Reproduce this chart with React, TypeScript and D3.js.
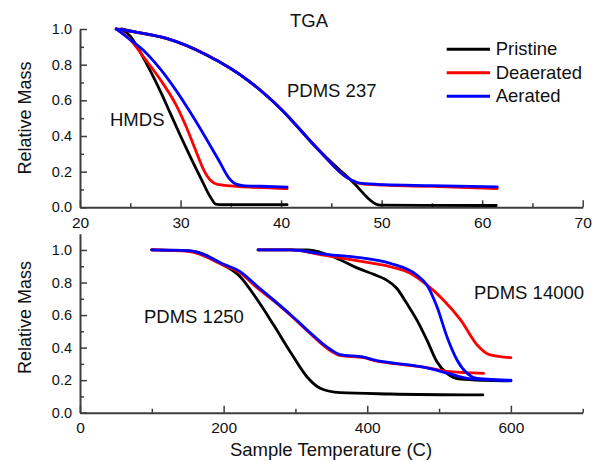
import * as d3 from "d3";
import { useEffect, useRef } from "react";

type Pt = [number, number];

const W = 592;
const H = 461;
const FONT = "'Liberation Sans', Arial, sans-serif";

const legendLabels = ["Pristine", "Deaerated", "Aerated"];
const seriesColors = ["#000000", "#ff0000", "#0000ff"];

// top panel: temperature (C) vs relative mass
const hmdsPristine: Pt[] = [[24.1, 1.0], [25, 0.96], [26, 0.87], [27, 0.765], [28, 0.65], [29, 0.525], [30, 0.4], [31, 0.28], [32, 0.165], [33, 0.055], [33.5, 0.018], [34.2, 0.015], [40.6, 0.015]];
const hmdsDeaerated: Pt[] = [[23.6, 1.0], [25, 0.94], [26.5, 0.83], [28, 0.715], [29.5, 0.58], [30.5, 0.46], [31.5, 0.32], [32.3, 0.21], [33, 0.15], [33.6, 0.13], [35, 0.12], [40.6, 0.105]];
const hmdsAerated: Pt[] = [[23.6, 1.0], [25, 0.94], [26.5, 0.87], [28, 0.775], [29.5, 0.66], [31, 0.53], [32.5, 0.39], [33.8, 0.264], [34.8, 0.165], [35.5, 0.13], [36.2, 0.122], [38, 0.118], [40.6, 0.113]];

const pdms237Pristine: Pt[] = [[24.2, 1.0], [25.8, 0.98], [28.6, 0.947], [32.6, 0.854], [36.8, 0.708], [40.1, 0.545], [43.6, 0.33], [46.9, 0.155], [49.9, 0.012], [61.4, 0.01]];
const pdms237Deaerated: Pt[] = [[23.6, 1.0], [25.8, 0.98], [28.6, 0.947], [32.6, 0.854], [36.8, 0.708], [40.1, 0.545], [43.6, 0.33], [46.6, 0.165], [47.9, 0.133], [50.2, 0.124], [55, 0.117], [61.5, 0.105]];
const pdms237Aerated: Pt[] = [[23.6, 1.0], [25.8, 0.98], [28.6, 0.947], [32.6, 0.854], [36.8, 0.708], [40.1, 0.545], [43.6, 0.33], [46.6, 0.165], [47.9, 0.135], [50.2, 0.127], [55, 0.122], [61.5, 0.114]];

// bottom panel
const pdms1250Pristine: Pt[] = [[100, 1.0], [153, 0.995], [200, 0.908], [223, 0.836], [246, 0.7], [269.5, 0.54], [292.7, 0.375], [316, 0.221], [334.5, 0.15], [362, 0.123], [432, 0.115], [561, 0.109]];
const pdms1250Deaerated: Pt[] = [[100, 1.0], [153, 0.99], [200, 0.905], [223, 0.86], [246, 0.77], [269, 0.69], [292.7, 0.6], [316, 0.505], [348.4, 0.382], [362, 0.352], [395, 0.338], [409, 0.322], [455, 0.293], [478, 0.28], [515.7, 0.252], [562, 0.242]];
const pdms1250Aerated: Pt[] = [[100, 1.0], [153, 0.995], [200, 0.912], [223, 0.867], [246, 0.78], [269, 0.695], [292.7, 0.605], [316, 0.51], [348.4, 0.39], [362, 0.357], [395, 0.342], [409, 0.325], [455, 0.295], [478, 0.28], [515.7, 0.238], [539, 0.211], [600, 0.197]];

const pdms14000Pristine: Pt[] = [[248, 1.0], [316, 1.0], [339, 0.98], [362, 0.94], [385.6, 0.89], [409, 0.85], [425, 0.82], [441, 0.765], [455, 0.672], [469, 0.57], [483, 0.447], [497, 0.313], [511, 0.242], [530, 0.207], [600, 0.195]];
const pdms14000Deaerated: Pt[] = [[248, 1.0], [292.7, 1.0], [339, 0.969], [385.6, 0.934], [432, 0.897], [460, 0.857], [483, 0.785], [506, 0.693], [530, 0.57], [553, 0.416], [571, 0.355], [600, 0.338]];
const pdms14000Aerated: Pt[] = [[248, 1.0], [292.7, 1.0], [339, 0.975], [385.6, 0.955], [432, 0.918], [469, 0.846], [483, 0.785], [497, 0.652], [511, 0.467], [525, 0.324], [539, 0.242], [553, 0.211], [600, 0.2]];

const topSeries = [
  [hmdsPristine, pdms237Pristine],
  [hmdsDeaerated, pdms237Deaerated],
  [hmdsAerated, pdms237Aerated],
];
const bottomSeries = [
  [pdms1250Pristine, pdms14000Pristine],
  [pdms1250Deaerated, pdms14000Deaerated],
  [pdms1250Aerated, pdms14000Aerated],
];

const topXMajor = [20, 30, 40, 50, 60, 70];
const topXMinor = [25, 35, 45, 55, 65];
const bottomXMajor = [0, 200, 400, 600];
const bottomXMinor = [100, 300, 500, 700];
const yMajor = [0, 0.2, 0.4, 0.6, 0.8, 1.0];
const yMinor = [0.1, 0.3, 0.5, 0.7, 0.9];

export default function App() {
  const svgRef = useRef<SVGSVGElement>(null);

  useEffect(() => {
    const svg = d3.select(svgRef.current);
    svg.selectAll("*").remove();

    svg.append("rect").attr("width", W).attr("height", H).attr("fill", "#fff");

    // top panel
    const x1 = d3.scaleLinear().domain([20, 70]).range([80, 582.7]);
    const y1 = d3.scaleLinear().domain([0, 1]).range([207.3, 29]);
    drawAxes(svg, x1, y1, topXMajor, topXMinor);
    drawLines(svg, x1, y1, topSeries);

    // bottom panel
    const x2 = d3.scaleLinear().domain([0, 700]).range([80, 582.7]);
    const y2 = d3.scaleLinear().domain([0, 1.1]).range([412.7, 233.7]);
    drawAxes(svg, x2, y2, bottomXMajor, bottomXMinor);
    drawLines(svg, x2, y2, bottomSeries);

    // labels
    addText(svg, "TGA", 290, 27, 18.5);
    addText(svg, "PDMS 237", 287, 97, 18.5);
    addText(svg, "HMDS", 110, 126, 18.5);
    addText(svg, "PDMS 1250", 144, 323, 18.5);
    addText(svg, "PDMS 14000", 474, 299, 18.5);
    addText(svg, "Sample Temperature (C)", 331, 456, 18.5).attr("text-anchor", "middle");

    [118, 317.5].forEach(cy => {
      svg.append("text")
        .attr("transform", `translate(30.5,${cy}) rotate(-90)`)
        .attr("text-anchor", "middle")
        .attr("font-family", FONT)
        .attr("font-size", 18)
        .attr("fill", "#111")
        .text("Relative Mass");
    });

    // legend
    const lg = svg.append("g");
    legendLabels.forEach((label, i) => {
      const ly = 49.3 + i * 23.5;
      lg.append("line")
        .attr("x1", 446.7).attr("x2", 490)
        .attr("y1", ly).attr("y2", ly)
        .attr("stroke", seriesColors[i])
        .attr("stroke-width", 3);
      lg.append("text")
        .attr("x", 495.7).attr("y", ly + 6)
        .attr("font-family", FONT)
        .attr("font-size", 18.5)
        .attr("fill", "#111")
        .text(label);
    });
  }, []);

  return (
    <svg ref={svgRef} width={W} height={H} style={{ position: "absolute", left: 0, top: 0 }}></svg>
  );
}

function addText(svg: any, s: string, x: number, y: number, size: number) {
  return svg.append("text")
    .attr("x", x).attr("y", y)
    .attr("font-family", FONT)
    .attr("font-size", size)
    .attr("fill", "#111")
    .text(s);
}

function drawLines(svg: any, x: any, y: any, series: Pt[][][]) {
  const line = d3.line<Pt>()
    .x(d => x(d[0]))
    .y(d => y(d[1]))
    .curve(d3.curveMonotoneX);

  const g = svg.append("g");
  series.forEach((group, i) => {
    group.forEach(data => {
      g.append("path")
        .attr("d", line(data))
        .attr("fill", "none")
        .attr("stroke", seriesColors[i])
        .attr("stroke-width", 2.8)
        .attr("stroke-linejoin", "round")
        .attr("stroke-linecap", "round");
    });
  });
}

function drawAxes(svg: any, x: any, y: any, xMajor: number[], xMinor: number[]) {
  const axisColor = "#3c3c3c";
  const y0 = y.range()[0];
  const x0 = x.range()[0];

  const style = (g: any) => {
    g.attr("font-family", FONT).attr("fill", "#111");
    g.select(".domain").attr("stroke", axisColor).attr("stroke-width", 2);
    g.selectAll(".tick line").attr("stroke", axisColor).attr("stroke-width", 1.5);
    g.selectAll(".tick text").attr("fill", "#111");
  };

  svg.append("g")
    .attr("transform", `translate(0,${y0})`)
    .call(d3.axisBottom(x).tickValues(xMinor).tickSize(-4).tickSizeOuter(0).tickFormat(() => ""))
    .call(style)
    .call((g: any) => g.select(".domain").remove());

  svg.append("g")
    .attr("transform", `translate(0,${y0})`)
    .call(d3.axisBottom(x).tickValues(xMajor).tickSize(-7).tickSizeOuter(0).tickPadding(9.5).tickFormat(d3.format("d")))
    .attr("font-size", 15.5)
    .call(style);

  svg.append("g")
    .attr("transform", `translate(${x0},0)`)
    .call(d3.axisLeft(y).tickValues(yMinor).tickSize(-4).tickSizeOuter(0).tickFormat(() => ""))
    .call(style)
    .call((g: any) => g.select(".domain").remove());

  svg.append("g")
    .attr("transform", `translate(${x0},0)`)
    .call(d3.axisLeft(y).tickValues(yMajor).tickSize(-7).tickSizeOuter(0).tickPadding(8).tickFormat(d3.format(".1f")))
    .attr("font-size", 14.5)
    .call(style);
}
